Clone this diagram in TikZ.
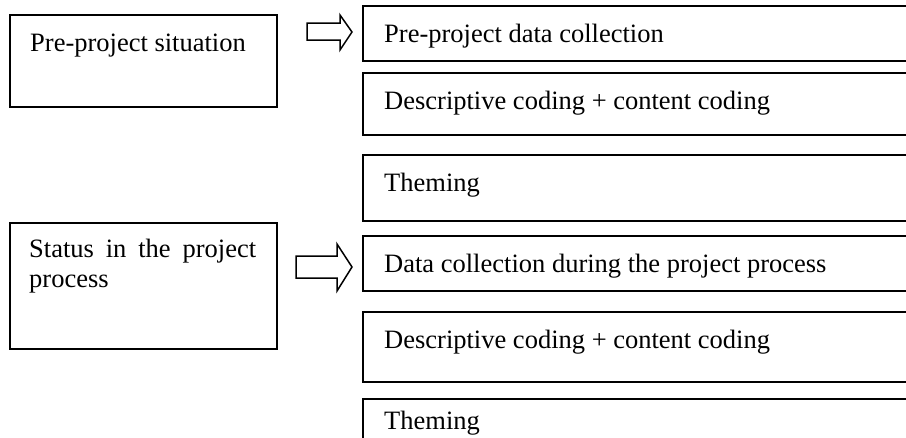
\documentclass[tikz,border=0pt]{standalone}
\usepackage{fontspec}
\setmainfont{Liberation Serif}
\begin{document}
\begin{tikzpicture}[x=1pt,y=-1pt,
  box/.style={draw, line width=1.6pt, rectangle, anchor=north west, inner sep=0pt, minimum width=#1},
  box/.default=267pt,
  lbl/.style={anchor=base west, inner sep=0pt, font=\fontsize{26.5}{30}\selectfont},
  blockarrow/.style={draw, line width=1.5pt, line join=miter, fill=white}]
\useasboundingbox (0,0) rectangle (906,437);

% stage boxes on the left
\node[box, minimum height=92pt] (pre) at (9,14) {};
\node[box, minimum height=126pt] (status) at (9,222) {};

% step boxes on the right (they run past the page edge)
\node[box=560pt, minimum height=55pt] (r1) at (362,5) {};
\node[box=560pt, minimum height=62pt] (r2) at (362,72) {};
\node[box=560pt, minimum height=66pt] (r3) at (362,154) {};
\node[box=560pt, minimum height=55pt] (r4) at (362,235) {};
\node[box=560pt, minimum height=70pt] (r5) at (362,311) {};
\node[box=560pt, minimum height=60pt] (r6) at (362,398) {};

% labels
\node[lbl] (tpre) at ([shift={(21,37)}]pre.north west) {Pre-project situation};
\node[lbl] (tstatus1) at ([shift={(20,35)}]status.north west) {\makebox[227pt][s]{Status in the project}};
\node[lbl] (tstatus2) at ([shift={(0,30)}]tstatus1.base west) {process};

\node[lbl] (t1) at ([shift={(22,37)}]r1.north west) {Pre-project data collection};
\node[lbl] (t2) at ([shift={(22,37)}]r2.north west) {Descriptive coding + content coding};
\node[lbl] (t3) at ([shift={(22,37)}]r3.north west) {Theming};
\node[lbl] (t4) at ([shift={(22,37)}]r4.north west) {Data collection during the project process};
\node[lbl] (t5) at ([shift={(22,37)}]r5.north west) {Descriptive coding + content coding};
\node[lbl] (t6) at ([shift={(22,31)}]r6.north west) {Theming};

% hollow block arrows
\coordinate (a1) at (307,23);
\draw[blockarrow] (a1) -- ++(33,0) -- ++(0,-8) -- ++(12,17) -- ++(-12,18) -- ++(0,-10) -- ++(-33,0) -- cycle;
\coordinate (a2) at (296,256);
\draw[blockarrow] (a2) -- ++(41,0) -- ++(0,-12) -- ++(15,23) -- ++(-15,24) -- ++(0,-13) -- ++(-41,0) -- cycle;
\end{tikzpicture}
\end{document}
